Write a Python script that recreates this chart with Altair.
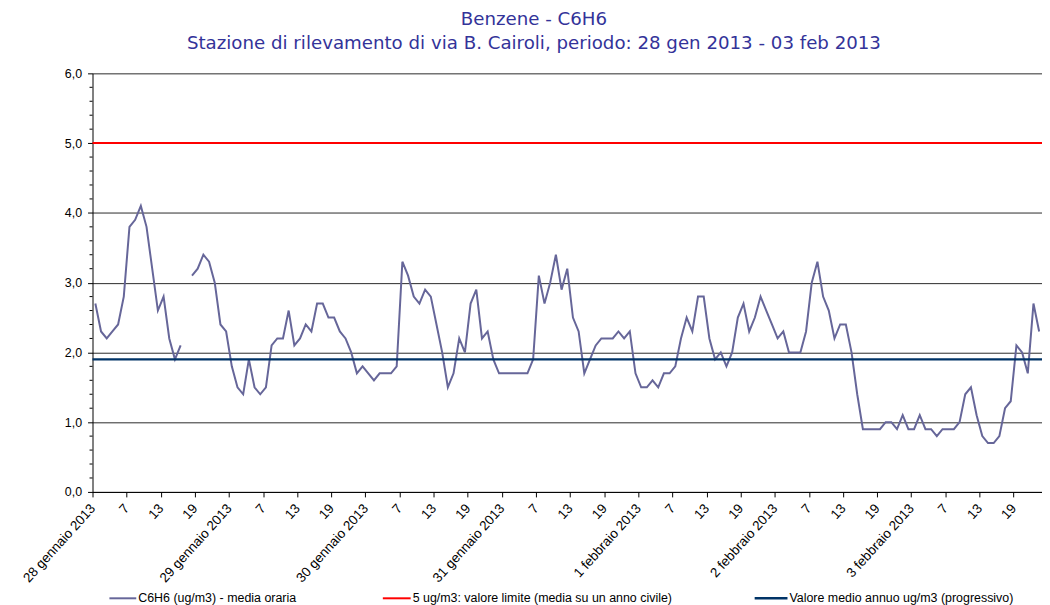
import altair as alt
import pandas as pd

# ---------------- data ----------------
benzene = [
    2.7, 2.3, 2.2, 2.3, 2.4, 2.8, 3.8, 3.9, 4.1, 3.8, 3.2, 2.6, 2.8, 2.2, 1.9, 2.1,
    None, 3.1, 3.2, 3.4, 3.3, 3.0, 2.4, 2.3, 1.8, 1.5, 1.4, 1.9, 1.5, 1.4, 1.5, 2.1,
    2.2, 2.2, 2.6, 2.1, 2.2, 2.4, 2.3, 2.7, 2.7, 2.5, 2.5, 2.3, 2.2, 2.0, 1.7, 1.8,
    1.7, 1.6, 1.7, 1.7, 1.7, 1.8, 3.3, 3.1, 2.8, 2.7, 2.9, 2.8, 2.4, 2.0, 1.5, 1.7,
    2.2, 2.0, 2.7, 2.9, 2.2, 2.3, 1.9, 1.7, 1.7, 1.7, 1.7, 1.7, 1.7, 1.9, 3.1, 2.7,
    3.0, 3.4, 2.9, 3.2, 2.5, 2.3, 1.7, 1.9, 2.1, 2.2, 2.2, 2.2, 2.3, 2.2, 2.3, 1.7,
    1.5, 1.5, 1.6, 1.5, 1.7, 1.7, 1.8, 2.2, 2.5, 2.3, 2.8, 2.8, 2.2, 1.9, 2.0, 1.8,
    2.0, 2.5, 2.7, 2.3, 2.5, 2.8, 2.6, 2.4, 2.2, 2.3, 2.0, 2.0, 2.0, 2.3, 3.0, 3.3,
    2.8, 2.6, 2.2, 2.4, 2.4, 2.0, 1.4, 0.9, 0.9, 0.9, 0.9, 1.0, 1.0, 0.9, 1.1, 0.9,
    0.9, 1.1, 0.9, 0.9, 0.8, 0.9, 0.9, 0.9, 1.0, 1.4, 1.5, 1.1, 0.8, 0.7, 0.7, 0.8,
    1.2, 1.3, 2.1, 2.0, 1.7, 2.7, 2.3,
]
limit_value = [5.0]
annual_mean = [1.9]

day_labels = ["28 gennaio 2013", "29 gennaio 2013", "30 gennaio 2013", "31 gennaio 2013",
              "1 febbraio 2013", "2 febbraio 2013", "3 febbraio 2013"]
x_tick_hours = list(range(0, 163, 6))
y_major = [0, 1, 2, 3, 4, 5, 6]
y_minor = [0.2, 0.4, 0.6, 0.8, 1.2, 1.4, 1.6, 1.8, 2.2, 2.4, 2.6, 2.8, 3.2, 3.4, 3.6, 3.8,
           4.2, 4.4, 4.6, 4.8, 5.2, 5.4, 5.6, 5.8]

legend_labels = ["C6H6 (ug/m3)  - media oraria",
                 "5 ug/m3: valore limite (media su un anno civile)",
                 "Valore medio annuo ug/m3 (progressivo)"]
title_lines = ["Benzene - C6H6",
               "Stazione di rilevamento di via B. Cairoli, periodo: 28 gen 2013 - 03 feb 2013"]

# ---------------- tables ----------------
rows = []
seg = 0
for i, v in enumerate(benzene):
    if v is None:
        seg += 1
        continue
    rows.append({"hour": i + 0.5, "value": v, "seg": seg})
series_df = pd.DataFrame(rows)

W, H = 955, 421
FONT_AX = "Liberation Sans"
LINE_C = "#666699"
RED_C = "#FF0000"
NAVY_C = "#003366"

days_js = "[" + ",".join("'" + d + "'" for d in day_labels) + "]"
x_label_expr = (f"datum.value % 24 === 0 ? {days_js}[datum.value / 24] "
                f": '' + (datum.value % 24 + 1)")

x_enc = alt.X("hour:Q",
              scale=alt.Scale(domain=[0, 167], nice=False, zero=False),
              axis=alt.Axis(values=x_tick_hours, labelExpr=x_label_expr, labelAngle=-48,
                            labelAlign="right", labelBaseline="middle", labelPadding=9,
                            labelFont=FONT_AX, labelFontSize=13.5, labelColor="#000000",
                            tickSize=5, tickColor="#000000", domainColor="#000000",
                            grid=False, title=None, labelOverlap=False, labelBound=False))

y_scale = alt.Scale(domain=[0, 6], nice=False, zero=True)
y_axis = alt.Axis(values=y_major,
                  labelExpr="replace(format(datum.value, '.1f'), '.', ',')",
                  labelFont=FONT_AX, labelFontSize=12.5, labelColor="#000000",
                  labelPadding=6, tickSize=5, tickColor="#000000",
                  domainColor="#000000", grid=True, gridColor="#2a2a2a",
                  gridWidth=1, title=None)


def yenc():
    return alt.Y("value:Q", scale=y_scale, axis=y_axis, title=None)


series = alt.Chart(series_df).mark_line(color=LINE_C, strokeWidth=2).encode(
    x=x_enc, y=yenc(), detail="seg:N")

red = alt.Chart(pd.DataFrame({"value": limit_value})).mark_rule(
    color=RED_C, strokeWidth=2).encode(y=yenc())

navy = alt.Chart(pd.DataFrame({"value": annual_mean})).mark_rule(
    color=NAVY_C, strokeWidth=2.5).encode(y=yenc())

minor = alt.Chart(pd.DataFrame({"value": y_minor})).mark_rule(
    color="#000000", strokeWidth=1).encode(
    y=yenc(), x=alt.value(-3), x2=alt.value(0))

# ---------------- legend (drawn) ----------------
LEG_Y = 528
legend_pos = [(17, 44), (292, 320), (666, 699)]
legend_cols = [LINE_C, RED_C, NAVY_C]
legend_w = [2, 2, 2.5]
legend_layers = []
for (x0, x1), col, lw, lab in zip(legend_pos, legend_cols, legend_w, legend_labels):
    one = pd.DataFrame({"label": [lab]})
    legend_layers.append(
        alt.Chart(one).mark_rule(color=col, strokeWidth=lw).encode(
            x=alt.value(x0), x2=alt.value(x1), y=alt.value(LEG_Y)))
    legend_layers.append(
        alt.Chart(one).mark_text(align="left", baseline="middle", font=FONT_AX,
                                 fontSize=12.5, color="#000000").encode(
            x=alt.value(x1 + 2), y=alt.value(LEG_Y), text="label:N"))

# ---------------- title (drawn) ----------------
title_layers = []
for txt, yy in zip(title_lines, [-54, -29]):
    title_layers.append(
        alt.Chart(pd.DataFrame({"t": [txt]})).mark_text(
            align="center", baseline="middle", font="DejaVu Sans", fontSize=18.3,
            color="#333399").encode(x=alt.value(444), y=alt.value(yy), text="t:N"))

chart = alt.layer(series, red, navy, minor, *legend_layers, *title_layers).properties(
    width=W, height=H,
    autosize=alt.AutoSizeParams(type="none"),
    padding={"left": 85, "top": 64, "right": 0, "bottom": 112},
    background="#ffffff",
).configure_view(stroke=None)

chart.save("out.html", embed_options={"renderer": "svg", "actions": False})
